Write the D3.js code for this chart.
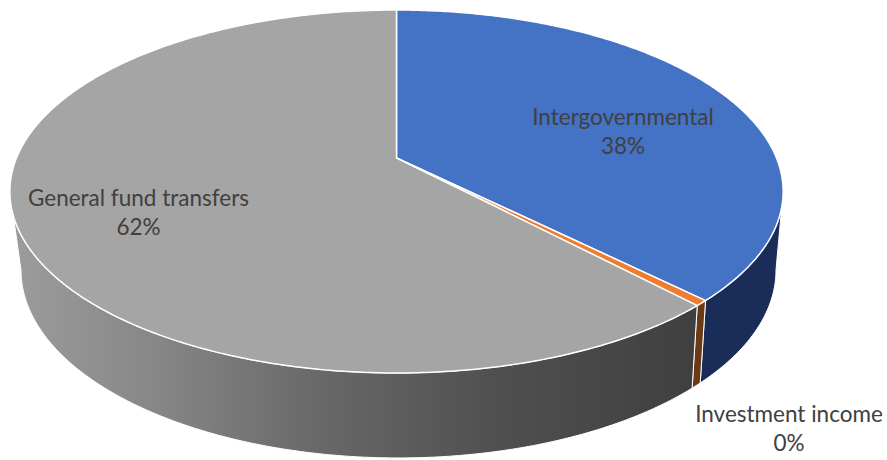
<!DOCTYPE html>
<html>
<head>
<meta charset="utf-8">
<style>html,body{margin:0;padding:0;background:#fff;overflow:hidden}</style>
<script src="https://cdn.jsdelivr.net/npm/d3@7"></script>
</head>
<body>
<svg id="chart" width="887" height="460"></svg>
<script>
// Revenue sources, in percent of the total
const categories = ["Intergovernmental", "Investment income", "General fund transfers"];
const shares = [37.5, 0.49, 62.01];
const topColors = ["#4472c4", "#ed7d31", "#a5a5a5"];
const sideColors = ["#1a2d58", "#6b3a14", "url(#greySide)"];
const greyRamp = [[0, "#9c9c9c"], [0.2, "#888888"], [0.45, "#686868"], [0.7, "#505050"], [1, "#3f3f3f"]];
const labelSpots = [[623, 118], [789, 415], [138.5, 199]];

const W = 887, H = 460;
const svg = d3.select("#chart").attr("viewBox", [0, 0, W, H]);

const slices = d3.pie().value(d => d).sort(null)(shares);
const toPercent = d3.format(".0%");
const total = d3.sum(shares);

// Perspective tilt of the disc: the far rim is compressed, the near rim stretched
const tilt = -0.1846;
const upper = {cx: 396.5, halfWidth: 380, depth: 146.15, mid: 158};
const lower = {cx: 398.5, halfWidth: 371, depth: 138, mid: 235.4};

// Project a pie angle (0 at twelve o'clock, clockwise) onto a tilted disc
const project = (disc, angle, r = 1) => {
  const u = r * Math.sin(angle), v = -r * Math.cos(angle);
  const w = 1 + tilt * v;
  return [disc.cx + disc.halfWidth * u / w, (disc.mid + disc.depth * v) / w];
};

// Angles where the disc outline is widest; the wall is visible between them
const widest = Math.acos(tilt);
const wallStart = widest, wallEnd = 2 * Math.PI - widest;

const sampleAngles = (a0, a1) => {
  const n = Math.max(2, Math.ceil(Math.abs(a1 - a0) / 0.01));
  return d3.range(n + 1).map(i => a0 + (a1 - a0) * i / n);
};

const line = d3.line();

const defs = svg.append("defs");
const grad = defs.append("linearGradient")
  .attr("id", "greySide").attr("gradientUnits", "userSpaceOnUse")
  .attr("x1", 10).attr("x2", 700).attr("y1", 0).attr("y2", 0);
grad.selectAll("stop").data(greyRamp).join("stop")
  .attr("offset", d => d[0]).attr("stop-color", d => d[1]);

// Outer wall of each slice, limited to the part facing the viewer
const wallPath = d => {
  const a0 = Math.max(d.startAngle, wallStart), a1 = Math.min(d.endAngle, wallEnd);
  if (a1 <= a0) return null;
  const angles = sampleAngles(a0, a1);
  const pts = angles.map(a => project(upper, a))
    .concat(angles.slice().reverse().map(a => project(lower, a)));
  return line(pts) + "Z";
};

svg.append("g").selectAll("path").data(slices).join("path")
  .attr("d", wallPath)
  .attr("fill", (d, i) => sideColors[i])
  .attr("stroke", "#fff").attr("stroke-width", 1).attr("stroke-linejoin", "round");

// Top face of each slice, running from the apex out to the rim
svg.append("g").selectAll("path").data(slices).join("path")
  .attr("d", d => line([project(upper, 0, 0)].concat(
    sampleAngles(d.startAngle, d.endAngle).map(a => project(upper, a)))) + "Z")
  .attr("fill", (d, i) => topColors[i])
  .attr("stroke", "#fff").attr("stroke-width", 1.5).attr("stroke-linejoin", "round");

// Category name and percentage for each slice
const labels = svg.append("g")
  .attr("font-family", "Lato, 'Open Sans', sans-serif")
  .attr("font-size", 22.5)
  .attr("fill", "#404040")
  .attr("text-anchor", "middle")
  .selectAll("text").data(slices).join("text")
  .attr("transform", (d, i) => `translate(${labelSpots[i][0]},${labelSpots[i][1]})`);
labels.append("tspan").attr("x", 0).attr("y", 7).text((d, i) => categories[i]);
labels.append("tspan").attr("x", 0).attr("y", 36).text(d => toPercent(d.value / total));
</script>
</body>
</html>
